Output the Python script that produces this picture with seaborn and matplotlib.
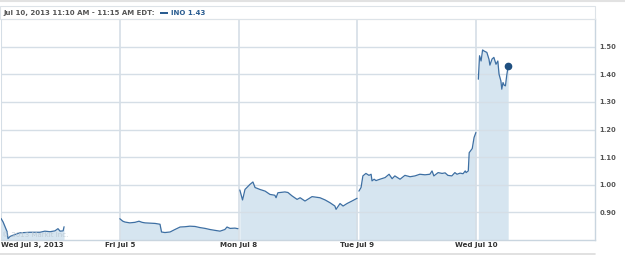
import numpy as np
import pandas as pd
import matplotlib
matplotlib.use("Agg")
import matplotlib.pyplot as plt
from matplotlib.lines import Line2D
from matplotlib.patches import Rectangle
import seaborn as sns

# ---------------- data (minutes after 9:30 open, price) ----------------
day_labels = ["Wed Jul 3, 2013", "Fri Jul 5", "Mon Jul 8", "Tue Jul 9", "Wed Jul 10"]

d1_min = [0, 7, 20, 23, 30, 39, 62, 95, 128, 144, 161, 177, 187, 194, 204, 207]
d1_px = [0.878, 0.865, 0.830, 0.805, 0.813, 0.817, 0.826, 0.828, 0.828, 0.832,
         0.830, 0.833, 0.841, 0.832, 0.833, 0.848]

d2_min = [0, 10, 17, 33, 50, 63, 73, 83, 99, 116, 132, 137, 148, 165, 181, 198,
          214, 230, 247, 263, 280, 296, 312, 329, 345, 352, 362, 378, 388]
d2_px = [0.877, 0.868, 0.865, 0.862, 0.864, 0.868, 0.864, 0.862, 0.861, 0.860,
         0.857, 0.829, 0.827, 0.829, 0.838, 0.847, 0.848, 0.850, 0.849, 0.845,
         0.842, 0.838, 0.835, 0.832, 0.838, 0.847, 0.842, 0.843, 0.841]

d3_min = [4, 13, 21, 37, 47, 54, 70, 87, 103, 119, 123, 129, 152, 162, 175, 192,
          202, 218, 241, 267, 284, 300, 316, 320, 333, 343, 356, 372, 389]
d3_px = [0.981, 0.945, 0.983, 1.001, 1.010, 0.990, 0.983, 0.977, 0.965, 0.962,
         0.953, 0.971, 0.974, 0.972, 0.960, 0.947, 0.953, 0.941, 0.957, 0.953,
         0.945, 0.935, 0.923, 0.911, 0.932, 0.923, 0.932, 0.941, 0.951]

d4_min = [5, 12, 18, 28, 38, 45, 48, 55, 61, 74, 91, 104, 114, 123, 140, 156,
          173, 189, 205, 222, 238, 245, 251, 265, 278, 288, 297, 310, 320, 327,
          337, 347, 354, 357, 364, 367, 377, 383, 389]
d4_px = [0.977, 0.990, 1.032, 1.041, 1.034, 1.038, 1.014, 1.020, 1.015, 1.020,
         1.026, 1.038, 1.022, 1.032, 1.020, 1.034, 1.029, 1.032, 1.038, 1.036,
         1.038, 1.050, 1.032, 1.044, 1.041, 1.043, 1.034, 1.032, 1.044, 1.038,
         1.042, 1.040, 1.050, 1.044, 1.050, 1.116, 1.131, 1.171, 1.189]

d5_min = [7, 11, 16, 21, 26, 35, 42, 45, 52, 58, 65, 71, 75, 81, 84, 88, 92, 96,
          100, 105]
d5_px = [1.382, 1.467, 1.448, 1.488, 1.484, 1.479, 1.454, 1.433, 1.455, 1.461,
         1.436, 1.448, 1.400, 1.376, 1.346, 1.370, 1.360, 1.358, 1.394, 1.430]

y_ticks = [0.90, 1.00, 1.10, 1.20, 1.30, 1.40, 1.50]
header_text = "Jul 10, 2013 11:10 AM - 11:15 AM EDT:"
legend_text = "INO 1.43"

SESSION = 390.0
days = [(d1_min, d1_px), (d2_min, d2_px), (d3_min, d3_px), (d4_min, d4_px), (d5_min, d5_px)]
frames = []
for i, (m, p) in enumerate(days):
    frames.append(pd.DataFrame({"day": i, "pos": i + np.array(m) / SESSION, "price": p}))
df = pd.concat(frames, ignore_index=True)

# ---------------- figure ----------------
sns.set_theme(style="white")
plt.rcParams["font.family"] = ["DejaVu Sans"]
W, H = 625, 256
fig = plt.figure(figsize=(W / 100, H / 100), dpi=100)
fig.patch.set_facecolor("white")

def fx(px):
    return px / W

def fy(py):
    return 1 - py / H

ax = fig.add_axes([fx(1), fy(240), fx(595) - fx(1), fy(19) - fy(240)])
ax.set_xlim(0, 5)
ax.set_ylim(0.80, 1.60)

FILL = "#d6e5f0"
LINE = "#3d6fa3"
GRID = "#d5dee6"

for i in range(5):
    sub = df[df["day"] == i]
    ax.fill_between(sub["pos"], sub["price"], 0.80, color=FILL, lw=0, zorder=1)

sns.lineplot(data=df, x="pos", y="price", units="day", estimator=None,
             color=LINE, lw=0.9, ax=ax, zorder=3, legend=False)

last = df.iloc[-1]
ax.plot([last["pos"]], [last["price"]], "o", color="#1f4f80", ms=4.5, zorder=4)

# grid
for yv in y_ticks:
    ax.axhline(yv, color=GRID, lw=1.0, zorder=2)
for xv in range(1, 5):
    ax.axvline(xv, color=GRID, lw=1.2, zorder=2)
ax.axvline(0, color=GRID, lw=1.5, zorder=2)

for s in ["left"]:
    ax.spines[s].set_visible(False)
for s in ["right", "bottom"]:
    ax.spines[s].set_color("#c9d5df")
    ax.spines[s].set_linewidth(1.0)
ax.spines["top"].set_color("#dde3e8")
ax.spines["top"].set_linewidth(0.8)

ax.set_xlabel("")
ax.set_ylabel("")
ax.yaxis.tick_right()
ax.set_yticks(y_ticks)
ax.set_yticklabels([f"{v:.2f}" for v in y_ticks], fontsize=4.9, fontweight="bold", color="#555555")
ax.tick_params(axis="y", length=0, pad=3)
ax.set_xticks(range(5))
ax.set_xticklabels(day_labels, fontsize=5.1, fontweight="bold", color="#333333")
ax.tick_params(axis="x", length=0, pad=1.5)
ax.get_xticklabels()[0].set_ha("left")

# watermark
ax.text(0.012, 0.812, "\u00a9 2013 Markit Inc.", fontsize=5, color="#b8c4ce",
        alpha=0.8, zorder=5)

# header box
fig.add_artist(Line2D([0, 1], [fy(1), fy(1)], color="#e2e2e2", lw=1.5))
fig.add_artist(Rectangle((fx(0), fy(19)), fx(595), fy(6) - fy(19), fill=False,
                         edgecolor="#dde3e8", lw=0.8))
fig.text(fx(3), fy(12.8), header_text, fontsize=5.0, fontweight="bold",
         color="#555555", va="center", ha="left")
fig.add_artist(Rectangle((fx(160), fy(14)), fx(8), fy(11.5) - fy(14),
                         facecolor="#2b5d91", edgecolor="none"))
fig.text(fx(171), fy(12.8), legend_text, fontsize=5.0, fontweight="bold",
         color="#2b5d91", va="center", ha="left")
fig.add_artist(Line2D([0, fx(595)], [fy(254), fy(254)], color="#dcdcdc", lw=1.2))

fig.savefig("out.png", dpi=100, facecolor="white")
